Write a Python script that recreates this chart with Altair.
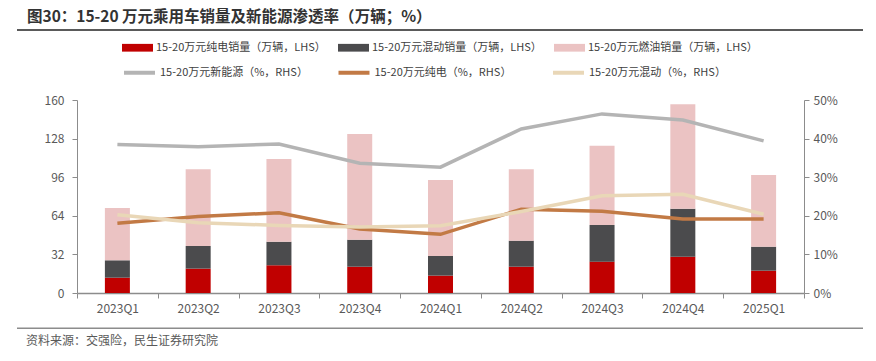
import altair as alt
import pandas as pd

quarters = ["2023Q1", "2023Q2", "2023Q3", "2023Q4", "2024Q1", "2024Q2", "2024Q3", "2024Q4", "2025Q1"]

# sales, 万辆 (LHS)
bev_sales = [12.7, 20.2, 23.0, 21.8, 14.4, 21.8, 26.0, 30.1, 18.5]
hev_sales = [14.4, 18.8, 19.5, 22.4, 16.3, 21.6, 30.4, 39.8, 19.9]
ice_sales = [43.4, 63.6, 68.5, 87.6, 63.0, 59.2, 65.6, 86.5, 59.4]

# penetration, % (RHS)
nev_pct = [38.5, 37.9, 38.6, 33.6, 32.6, 42.5, 46.4, 44.8, 39.4]
bev_pct = [18.1, 19.8, 20.8, 16.6, 15.2, 21.7, 21.2, 19.2, 19.2]
hev_pct = [20.3, 18.2, 17.5, 17.1, 17.4, 21.1, 25.2, 25.6, 20.4]

bar_names = ["15-20万元纯电销量（万辆，LHS）", "15-20万元混动销量（万辆，LHS）", "15-20万元燃油销量（万辆，LHS）"]
line_names = ["15-20万元新能源（%，RHS）", "15-20万元纯电（%，RHS）", "15-20万元混动（%，RHS）"]
bar_colors = ["#C00000", "#4B4B4D", "#EBC3C3"]
line_colors = ["#B4B4B4", "#C27A45", "#E9D7B7"]

title_text = "图30：15-20 万元乘用车销量及新能源渗透率（万辆；%）"
source_text = "资料来源：交强险，民生证券研究院"

FONT = "Noto Sans CJK SC"

# layout (pixels inside the 860x345 chart group)
W, H = 860, 345
PLOT_L, PLOT_R, PLOT_T, PLOT_B = 69, 796, 92, 285

bar_rows = []
for k, (name, vals) in enumerate(zip(bar_names, [bev_sales, hev_sales, ice_sales])):
    for q, v in zip(quarters, vals):
        bar_rows.append({"quarter": q, "series": name, "value": v, "ord": k})
bar_df = pd.DataFrame(bar_rows)

line_rows = []
for name, vals in zip(line_names, [nev_pct, bev_pct, hev_pct]):
    for i, (q, v) in enumerate(zip(quarters, vals)):
        line_rows.append({"quarter": q, "series": name, "pct": v / 100, "idx": i})
line_df = pd.DataFrame(line_rows)

x_enc = alt.X(
    "quarter:N",
    sort=quarters,
    scale=alt.Scale(type="band", range=[PLOT_L, PLOT_R], paddingInner=0, paddingOuter=0),
    axis=alt.Axis(
        title=None, labelAngle=0, tickBand="extent", tickSize=5, labelPadding=5,
        offset=-(H - PLOT_B),
        domainColor="#8C8C8C", domainWidth=1.5, tickColor="#8C8C8C",
        labelColor="#595959", labelFontSize=12, labelFont=FONT, grid=False,
    ),
)

bar_legend = alt.Legend(
    title=None, orient="none", legendX=114, legendY=24, direction="horizontal",
    columns=3, gridAlign="all", symbolType="M-1,-0.25L1,-0.25L1,0.25L-1,0.25Z",
    symbolSize=961, symbolStrokeWidth=0, labelFontSize=11, labelFont=FONT,
    labelColor="#404040", labelOffset=3, columnPadding=12, padding=0, labelLimit=400,
)

line_legend = alt.Legend(
    title=None, orient="none", legendX=114, legendY=47, direction="horizontal",
    columns=3, gridAlign="all", symbolType="stroke", symbolSize=961, symbolStrokeWidth=4,
    labelFontSize=11, labelFont=FONT, labelColor="#404040", labelOffset=3,
    columnPadding=22.5, padding=0, labelLimit=400,
)

bars = alt.Chart(bar_df).mark_bar(size=25).encode(
    x=x_enc,
    y=alt.Y(
        "value:Q", stack="zero",
        scale=alt.Scale(domain=[0, 160], range=[PLOT_B, PLOT_T], nice=False),
        axis=alt.Axis(
            title=None, orient="left", values=[0, 32, 64, 96, 128, 160], grid=False,
            offset=-PLOT_L,
            domainColor="#8C8C8C", tickColor="#8C8C8C", tickSize=5, labelPadding=8,
            labelColor="#595959", labelFontSize=12, labelFont=FONT,
        ),
    ),
    color=alt.Color("series:N", scale=alt.Scale(domain=bar_names, range=bar_colors), legend=bar_legend),
    order=alt.Order("ord:Q"),
)

lines = alt.Chart(line_df).mark_line(strokeWidth=3.5).encode(
    x=x_enc,
    y=alt.Y(
        "pct:Q",
        scale=alt.Scale(domain=[0, 0.5], range=[PLOT_B, PLOT_T], nice=False),
        axis=alt.Axis(
            title=None, orient="right", values=[0, 0.1, 0.2, 0.3, 0.4, 0.5], format=".0%", grid=False,
            offset=-(W - PLOT_R),
            domainColor="#8C8C8C", tickColor="#8C8C8C", tickSize=5, labelPadding=4,
            labelColor="#595959", labelFontSize=12, labelFont=FONT,
        ),
    ),
    stroke=alt.Stroke("series:N", scale=alt.Scale(domain=line_names, range=line_colors), legend=line_legend),
    order=alt.Order("idx:Q"),
)

one = pd.DataFrame({"t": [title_text], "s": [source_text]})

header_rule = alt.Chart(one).mark_rect(fill="#5A5A5A").encode(
    x=alt.value(9), x2=alt.value(855), y=alt.value(21), y2=alt.value(23)
)
footer_rule = alt.Chart(one).mark_rect(fill="#8C8C8C").encode(
    x=alt.value(9), x2=alt.value(855), y=alt.value(319.5), y2=alt.value(321)
)

title = alt.Chart(one).mark_text(
    align="left", baseline="top", fontSize=15.5, fontWeight="bold", font=FONT, color="#333333"
).encode(x=alt.value(19), y=alt.value(2), text="t:N")

source = alt.Chart(one).mark_text(
    align="left", baseline="middle", fontSize=12, font=FONT, color="#595959"
).encode(x=alt.value(18), y=alt.value(333), text="s:N")

chart = (
    alt.layer(bars, lines, title, source, header_rule, footer_rule)
    .resolve_scale(y="independent")
    .properties(
        width=W, height=H,
        autosize=alt.AutoSizeParams(type="none"),
        padding=0,
    )
    .configure_view(stroke=None)
)

chart.save("out.html", embed_options={"renderer": "svg", "actions": False})
